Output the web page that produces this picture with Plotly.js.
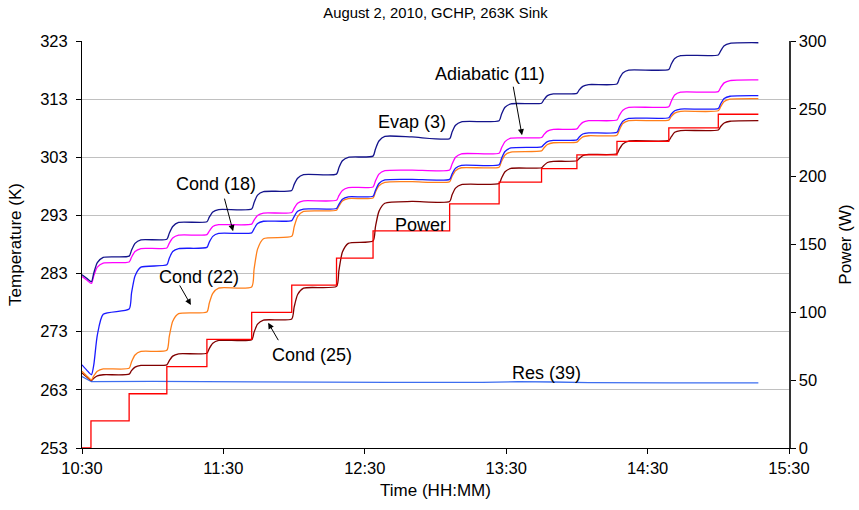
<!DOCTYPE html>
<html>
<head>
<meta charset="utf-8">
<script src="https://cdn.plot.ly/plotly-3.0.1.min.js"></script>
<style>html,body{margin:0;padding:0;background:#fff;}#chart{width:859px;height:510px;}</style>
</head>
<body>
<div id="chart"></div>
<script>
// Time axis in minutes after 10:30
const tickVals = [0, 60, 120, 180, 240, 300];
const tickText = ['10:30', '11:30', '12:30', '13:30', '14:30', '15:30'];

// Sample times (minutes after 10:30) for the temperature traces
const tempTimeMin = [0, 2, 4, 5, 6.5, 9,
  20, 21, 22.5, 25,
  36, 37, 38.5, 41,
  53, 54, 55.5, 58,
  72, 73, 74.5, 77,
  89, 90, 91.5, 94,
  108, 109, 110.5, 113,
  123.5, 124.5, 126, 128.5,
  140,
  156, 157, 158.5, 161,
  177, 178, 179.5, 182,
  195, 196, 197.5, 200,
  210, 211, 212.5, 215,
  227, 228, 229.5, 232,
  249, 250, 251.5, 254,
  270, 271, 272.5, 275,
  287];

const evap3 = [282.8, 282.2, 281.6, 283.1, 284.9, 285.8,
  286.0, 287.0, 288.2, 288.8,
  288.9, 289.9, 291.1, 291.8,
  291.9, 292.7, 293.6, 294.0,
  294.1, 295.2, 296.5, 297.1,
  297.3, 298.3, 299.4, 300.0,
  300.1, 301.2, 302.4, 303.0,
  303.2, 304.4, 305.8, 306.6,
  306.5,
  306.2, 307.3, 308.5, 309.1,
  309.3, 310.4, 311.6, 312.2,
  312.3, 312.9, 313.6, 313.9,
  314.0, 314.6, 315.2, 315.5,
  315.6, 316.5, 317.5, 318.0,
  318.1, 319.0, 320.0, 320.5,
  320.6, 321.3, 322.2, 322.6,
  322.7];

const adiabatic11 = [282.5, 281.9, 281.3, 282.6, 284.1, 284.8,
  285.0, 285.8, 286.8, 287.3,
  287.4, 288.2, 289.1, 289.6,
  289.7, 290.3, 291.1, 291.4,
  291.5, 292.2, 293.0, 293.4,
  293.5, 294.2, 295.1, 295.5,
  295.6, 296.4, 297.3, 297.8,
  297.9, 298.9, 300.1, 300.7,
  300.8,
  300.8, 301.8, 303.0, 303.6,
  303.7, 304.6, 305.7, 306.3,
  306.4, 306.9, 307.5, 307.8,
  307.9, 308.4, 309.0, 309.3,
  309.4, 310.2, 311.1, 311.6,
  311.7, 312.6, 313.7, 314.2,
  314.3, 315.0, 315.8, 316.2,
  316.3];

const cond18 = [267.3, 266.4, 265.6, 267.3, 272.4, 276.0,
  276.9, 279.6, 282.6, 284.1,
  284.5, 285.6, 286.8, 287.3,
  287.5, 288.4, 289.4, 289.9,
  290.0, 290.7, 291.6, 292.0,
  292.1, 292.8, 293.7, 294.1,
  294.2, 294.9, 295.8, 296.2,
  296.3, 297.3, 298.5, 299.1,
  299.2,
  299.2, 300.1, 301.1, 301.6,
  301.7, 302.8, 304.0, 304.6,
  304.8, 305.2, 305.7, 305.9,
  306.0, 306.5, 307.0, 307.2,
  307.3, 308.2, 309.2, 309.7,
  309.8, 310.4, 311.0, 311.3,
  311.4, 312.2, 313.1, 313.5,
  313.6];

const cond22 = [266.2, 265.4, 264.7, 265.4, 266.2, 266.6,
  266.7, 267.8, 269.0, 269.6,
  269.8, 272.1, 274.8, 276.1,
  276.4, 277.9, 279.6, 280.5,
  280.7, 283.7, 287.2, 289.0,
  289.4, 291.0, 292.8, 293.7,
  293.9, 294.6, 295.5, 295.9,
  296.0, 297.0, 298.1, 298.7,
  298.8,
  298.8, 299.7, 300.7, 301.2,
  301.3, 302.3, 303.4, 303.9,
  304.1, 304.6, 305.2, 305.5,
  305.6, 306.0, 306.5, 306.7,
  306.8, 307.7, 308.8, 309.3,
  309.4, 310.0, 310.6, 310.9,
  311.0, 311.7, 312.6, 313.0,
  313.1];

const cond25 = [265.9, 265.2, 264.6, 265.0, 265.4, 265.6,
  265.7, 266.3, 266.9, 267.2,
  267.3, 268.0, 268.8, 269.2,
  269.3, 270.1, 271.0, 271.5,
  271.6, 272.9, 274.3, 275.0,
  275.2, 277.2, 279.4, 280.5,
  280.8, 283.5, 286.7, 288.2,
  288.6, 291.0, 293.7, 295.1,
  295.4,
  295.4, 296.5, 297.7, 298.3,
  298.5, 299.4, 300.5, 301.1,
  301.2, 301.6, 302.1, 302.3,
  302.4, 302.8, 303.3, 303.5,
  303.6, 304.4, 305.3, 305.8,
  305.9, 306.5, 307.3, 307.6,
  307.7, 308.3, 308.9, 309.2,
  309.3];

const resTimeMin = [0, 2, 4, 30, 80, 130, 170, 185, 200, 215, 250, 287];
const res39 = [265.3, 264.8, 264.4, 264.45, 264.35, 264.3, 264.3, 264.4, 264.35, 264.25, 264.2, 264.2];

const powerTimeMin = [0, 3.8, 20, 36, 53, 72, 89, 108, 123.5, 156, 177, 195, 210, 227, 249, 270, 287];
const powerW = [0, 20, 40, 60, 80, 100, 120, 140, 160, 180, 196, 206, 216, 226, 236, 246, 246];

const FONT = 'Liberation Sans, Arial, sans-serif';

function tr(x, y, color, name, yaxis, shape) {
  const line = {color: color, width: 1.3, shape: shape || 'spline'};
  if (line.shape === 'spline') line.smoothing = 0.6;
  return {x: x, y: y, type: 'scatter', mode: 'lines', name: name,
    yaxis: yaxis || 'y', line: line, hoverinfo: 'skip'};
}

const data = [
  tr(resTimeMin, res39, '#3d6ef0', 'Res (39)', 'y', 'linear'),
  tr(powerTimeMin, powerW, '#ff0000', 'Power', 'y2', 'hv'),
  tr(tempTimeMin, cond25, '#800000', 'Cond (25)'),
  tr(tempTimeMin, cond22, '#ff7f1a', 'Cond (22)'),
  tr(tempTimeMin, cond18, '#1a1aff', 'Cond (18)'),
  tr(tempTimeMin, adiabatic11, '#ff00ff', 'Adiabatic (11)'),
  tr(tempTimeMin, evap3, '#14148c', 'Evap (3)')
];

function lbl(text, x, y) {
  return {text: text, x: x, y: y, xref: 'x', yref: 'y', showarrow: false,
    font: {family: FONT, size: 18, color: '#000'}, xanchor: 'center', yanchor: 'middle'};
}
function arr(x, y, ax, ay) {
  return {text: '', x: x, y: y, xref: 'x', yref: 'y', ax: ax, ay: ay,
    showarrow: true, arrowhead: 2, arrowsize: 1.2, arrowwidth: 1, arrowcolor: '#000'};
}

const layout = {
  width: 859, height: 510,
  margin: {l: 82, r: 70, t: 41, b: 62},
  paper_bgcolor: '#fff', plot_bgcolor: '#fff',
  showlegend: false,
  font: {family: FONT, color: '#000'},
  title: {text: 'August 2, 2010, GCHP, 263K Sink', font: {family: FONT, size: 14.8, color: '#000'},
    x: 0.5, xref: 'paper', y: 0.975, yanchor: 'middle'},
  xaxis: {range: [0, 300], tickvals: tickVals, ticktext: tickText, ticks: 'outside', ticklen: 5,
    tickcolor: '#000', showline: true, linecolor: '#000', linewidth: 1, showgrid: false, zeroline: false,
    tickfont: {size: 16.5, family: FONT, color: '#000'},
    title: {text: 'Time (HH:MM)', font: {size: 17, family: FONT, color: '#000'}, standoff: 8}},
  yaxis: {range: [253, 323], tick0: 253, dtick: 10, ticks: 'outside', ticklen: 5, tickcolor: '#000',
    ticklabelstandoff: 5,
    showline: true, linecolor: '#000', linewidth: 1, showgrid: true, gridcolor: '#c0c0c0', zeroline: false,
    tickfont: {size: 16.5, family: FONT, color: '#000'},
    title: {text: 'Temperature (K)', font: {size: 17, family: FONT, color: '#000'}, standoff: 14}},
  yaxis2: {range: [0, 300], dtick: 50, overlaying: 'y', side: 'right', ticks: 'outside', ticklen: 5,
    tickcolor: '#000', showline: true, linecolor: '#333', linewidth: 1.5, showgrid: false, zeroline: false,
    tickfont: {size: 16.5, family: FONT, color: '#000'},
    title: {text: 'Power (W)', font: {size: 17, family: FONT, color: '#000'}, standoff: 14}},
  annotations: [
    lbl('Adiabatic (11)', 173.1, 317.4), arr(186.7, 306.8, -9, -50),
    lbl('Evap (3)', 140.0, 309.0),
    lbl('Cond (18)', 57.0, 298.4), arr(64.1, 290.3, -9, -34),
    lbl('Cond (22)', 49.6, 282.4), arr(46.2, 277.6, -12, -21),
    lbl('Cond (25)', 97.6, 269.0), arr(79.0, 274.55, 11, 19),
    lbl('Power', 143.8, 291.4),
    lbl('Res (39)', 197.3, 265.9)
  ]
};

Plotly.newPlot('chart', data, layout, {staticPlot: true, displayModeBar: false});
</script>
</body>
</html>
